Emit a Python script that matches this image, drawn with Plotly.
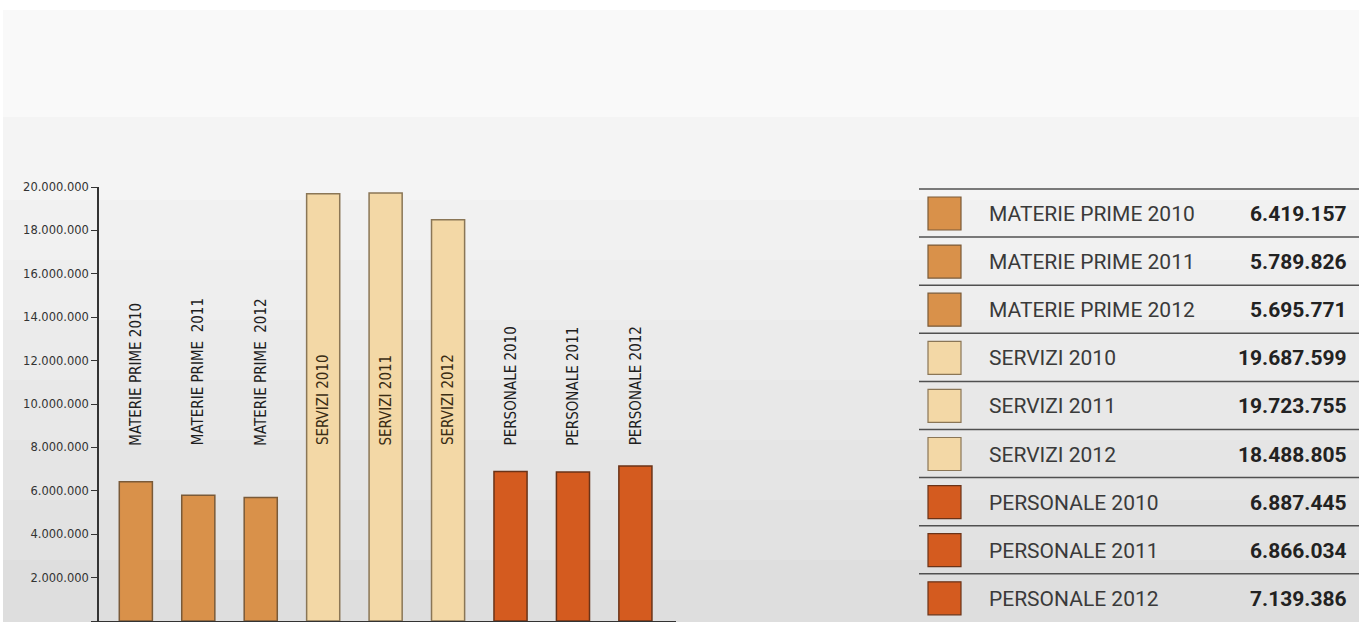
import plotly.graph_objects as go

# ---- data ----
categories = ["MATERIE PRIME 2010", "MATERIE PRIME 2011", "MATERIE PRIME 2012",
              "SERVIZI 2010", "SERVIZI 2011", "SERVIZI 2012",
              "PERSONALE 2010", "PERSONALE 2011", "PERSONALE 2012"]
bar_labels = ["MATERIE PRIME 2010", "MATERIE PRIME  2011", "MATERIE PRIME  2012",
              "SERVIZI 2010", "SERVIZI 2011", "SERVIZI 2012",
              "PERSONALE 2010", "PERSONALE 2011", "PERSONALE 2012"]
values = [6419157, 5789826, 5695771,
          19687599, 19723755, 18488805,
          6887445, 6866034, 7139386]
groups = ["mp", "mp", "mp", "sv", "sv", "sv", "pe", "pe", "pe"]
y_ticks = [0, 2000000, 4000000, 6000000, 8000000, 10000000,
           12000000, 14000000, 16000000, 18000000, 20000000]

# ---- style ----
W, H = 1359, 622
PL, PR, PT, PB = 99, 676, 187, 621  # plot area in pixels
fill = {"mp": "#D9914A", "sv": "#F3D8A6", "pe": "#D45B1F"}
edge = {"mp": "#7a5a38", "sv": "#8a7656", "pe": "#6a3318"}
lbl_col = {"mp": "#1e1e1e", "sv": "#3a2c14", "pe": "#1e1e1e"}
COND = "Liberation Sans Narrow, DejaVu Sans Condensed, Arial Narrow, sans-serif"
REG = "Roboto, DejaVu Sans, sans-serif"


def px(x):
    return (x - PL) / (PR - PL)


def py(y):
    return (PB - y) / (PB - PT)


fig = go.Figure()
fig.add_trace(go.Bar(
    x=categories, y=values, width=0.53,
    marker=dict(color=[fill[g] for g in groups],
                line=dict(color=[edge[g] for g in groups], width=1.5)),
    hoverinfo="x+y", showlegend=False,
))

shapes = []
# background bands
bands = [(0, 10, "#ffffff"), (10, 117, "#f9f9f9"), (117, 200, "#f4f4f4"),
         (200, 260, "#f1f1f1"), (260, 320, "#eeeeee"), (320, 380, "#ebebeb"),
         (380, 440, "#e8e8e8"), (440, 500, "#e5e5e5"), (500, 560, "#e2e2e2"),
         (560, 623, "#dedede")]
for y0, y1, c in bands:
    shapes.append(dict(type="rect", xref="paper", yref="paper",
                       x0=px(3), x1=px(W), y0=py(y1), y1=py(y0),
                       fillcolor=c, line=dict(width=0), layer="below"))

annotations = []
label_base = 8000000
for cat, lab, g in zip(categories, bar_labels, groups):
    annotations.append(dict(x=cat, y=label_base, xref="x", yref="y",
                            text=lab, textangle=-90, showarrow=False,
                            xanchor="center", yanchor="bottom",
                            font=dict(family=COND, size=15, color=lbl_col[g])))

# table / legend on the right
row_top0, row_h = 189, 48.1
for i, (cat, v, g) in enumerate(zip(categories, values, groups)):
    top = row_top0 + i * row_h
    shapes.append(dict(type="line", xref="paper", yref="paper",
                       x0=px(919), x1=px(W), y0=py(top), y1=py(top),
                       line=dict(color="#505050", width=1.5)))
    shapes.append(dict(type="rect", xref="paper", yref="paper",
                       x0=px(928), x1=px(961), y0=py(top + 41), y1=py(top + 8),
                       fillcolor=fill[g], line=dict(color=edge[g], width=1.2)))
    cy = py(top + row_h / 2 + 1)
    annotations.append(dict(x=px(987), y=cy, xref="paper", yref="paper",
                            text=cat, showarrow=False, xanchor="left",
                            yanchor="middle",
                            font=dict(family=REG, size=21, color="#3a3a3a")))
    annotations.append(dict(x=px(1349), y=cy, xref="paper", yref="paper",
                            text="<b>" + f"{v:,}".replace(",", ".") + "</b>",
                            showarrow=False, xanchor="right", yanchor="middle",
                            font=dict(family=REG, size=21, color="#222222")))

fig.update_layout(
    width=W, height=H,
    margin=dict(l=PL, r=W - PR, t=PT, b=H - PB, pad=0),
    paper_bgcolor="#ffffff", plot_bgcolor="rgba(0,0,0,0)",
    separators=",.",
    shapes=shapes, annotations=annotations,
    bargap=0.4,
    xaxis=dict(range=[-0.59, 8.65], showticklabels=False, ticks="",
               showgrid=False, zeroline=False, showline=True,
               linecolor="#333333", linewidth=1.5, fixedrange=True),
    yaxis=dict(range=[0, 20000000], tickvals=y_ticks, tickformat=",d",
               ticks="outside", ticklen=6, tickwidth=1.2, tickcolor="#333333",
               showgrid=False, zeroline=False, showline=True,
               linecolor="#333333", linewidth=1.5,
               tickfont=dict(family="DejaVu Sans, sans-serif", size=11.5,
                             color="#333333"),
               fixedrange=True),
)

fig.write_html("out.html")
